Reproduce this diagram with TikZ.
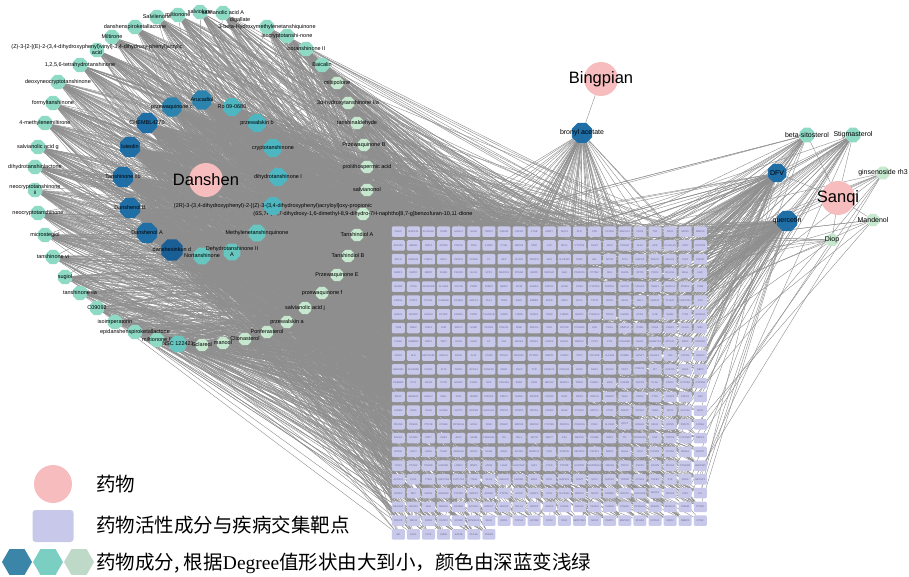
\documentclass[tikz,border=0pt]{standalone}
\usepackage{fontspec}
\setmainfont{Liberation Sans}
\newfontfamily\cjkfont{Noto Sans CJK SC}
\newfontfamily\latinserif{Liberation Serif}
\usetikzlibrary{shapes.geometric,backgrounds}

\definecolor{HerbPink}{HTML}{F7BDBE}
\definecolor{TargetLilac}{HTML}{C8C8EA}
\definecolor{GeneInk}{HTML}{6A6A9A}
\definecolor{LinkGray}{HTML}{8E8E8E}
\definecolor{DeepestFill}{HTML}{1A5E96}
\definecolor{DeepFill}{HTML}{1F6EA6}
\definecolor{MidFill}{HTML}{2B83AE}
\definecolor{TealFill}{HTML}{4DB6C1}
\definecolor{AquaFill}{HTML}{67C6C0}
\definecolor{MintFill}{HTML}{8FDAC4}
\definecolor{PaleFill}{HTML}{C6E8CF}
\definecolor{KeyDeep}{HTML}{3B86A8}
\definecolor{KeyMid}{HTML}{7BCFC2}
\definecolor{KeyPale}{HTML}{BFD9C9}

\tikzstyle{Herb} = [circle, fill=HerbPink, minimum size=34pt, inner sep=0pt]
\tikzstyle{HerbName} = [font=\fontsize{16.5}{17}\selectfont, inner sep=0pt]
\tikzstyle{Compound} = [regular polygon, regular polygon sides=8, inner sep=0pt]
\tikzstyle{Deepest} = [Compound, fill=DeepestFill, minimum size=23pt]
\tikzstyle{Deep} = [Compound, fill=DeepFill, minimum size=22pt]
\tikzstyle{Mid} = [Compound, fill=MidFill, minimum size=21pt]
\tikzstyle{Teal} = [Compound, fill=TealFill, minimum size=19pt]
\tikzstyle{Aqua} = [Compound, fill=AquaFill, minimum size=18pt]
\tikzstyle{Mint} = [Compound, fill=MintFill, minimum size=15.5pt]
\tikzstyle{Pale} = [Compound, fill=PaleFill, minimum size=13.5pt]
\tikzstyle{Tag} = [font=\fontsize{5.5}{6}\selectfont, inner sep=0pt, align=center]
\tikzstyle{TagBig} = [font=\fontsize{7}{8}\selectfont, inner sep=0pt]
\tikzstyle{Target} = [rectangle, rounded corners=1.2pt, fill=TargetLilac, minimum width=13pt, minimum height=10.5pt, inner sep=0pt]
\tikzstyle{Gene} = [font=\fontsize{2.5}{3}\selectfont, text=GeneInk, inner sep=0pt]
\tikzstyle{Link} = [draw=LinkGray, line width=0.4pt]
\tikzstyle{Key} = [font=\cjkfont\fontsize{19.5}{20}\selectfont, inner sep=0pt, anchor=west]
\tikzstyle{KeyBox} = [rectangle, rounded corners=3pt, fill=TargetLilac, minimum width=41pt, minimum height=32pt]
\tikzstyle{KeyHex} = [regular polygon, regular polygon sides=6, minimum size=30pt, inner sep=0pt]

\begin{document}
\begin{tikzpicture}[x=1pt, y=-1pt]
    \useasboundingbox (0,0) rectangle (909,577);

    \foreach \g [count=\n] in {
      PGH1, MAPK10, PLA2G2A, THRB, HDAC4, EZH2, TNNT2, GSK3B, CSF1R, CTSB, MMP7, NQO1, ATIC, CFD, CCND1, MAPK14, CDK6, TNF, CDK1, MMP9, MMP13,
      AKR1B1, ABCB1, DRD3, GPR35, PRKCA, PIM1, S1PR3, CTSS, MAPK3, PIM2, LCK, MCL1, CYP2C9, GART, JAK2, PDGFB, KLK3, SPR, PLA2G4A, HTR7, HCRTR2,
      MYLK, ADRA1B, FABP4, PAK4, PRKCH, VCAM1, F3, APP, ALOX5, PRKCD, JAK1, SLC22A6, PREP, AXL, MTOR, ST14, MAPK8, PDE7A, HDAC6, PLAT, PDE4D,
      NR3C1, GMPR, MMP2, ICAM1, PIK3CD, GLO1, UPP1, MAP2K3, PPARA, MMP8, IMPDH2, AHR, PDGFRA, PTPN2, SIK1, RHOA, OPTN, PROC, BCL2L1, MGLL, HGF,
      HCAR2, CTSA, ADORA2B, SLC6A3, GLP1R, PDPR, FABP5, MDM2, CD38, AURKA, DAPK1, LDHB, CDK4, CYP2D6, DHODH, GSTM1, HDAC8, TNNC1, MAPK11, PPARG, PIM3,
      PDE5A, STAT3, PTGS1, CAMK2B, KCNQ4, ABCC1, PLK1, TNKS, ESR1, ERBB2, EGFR, CDK2, BCL2, TSPO, NOS1, HRH1, ABL1, HMOX1, PLAUR, HSD17B1, CA9,
      HDAC1, IGFBP3, HDAC2, HTR2C, KDM1A, FNTB, PLA2G1B, SORD, LTB4R, DUSP1, TGM2, CHRM1, MAPK1, POLR1A, TACR1, GSK3A, CCR1, IL1B, SHBG, TYK2, ADRA2A,
      TLR9, HRH2, KNG1, ATM, MALT1, HUNK, OPRD1, PRKCE, MME, PRKCG, KDR, NPY5R, PTGER3, JUN, CES1, MMP14, ITGB1, CDK5, CASP1, CHKA, MET,
      LTA4H, GABRB3, BRD3, TERT, HCN1, CHAT, F2, CA1, BACE2, NTRK1, CASP6, IGHG1, MMP12, CTSV, FYN, PDGFRB, EGR1, ADAMTS4, ATP2A1, DRD2, CDC25C,
      GRIK2, ALK, HSP90AB1, NR1H3, BCHE, ALPL, STK38, PRSS1, ADRA2C, PTPN11, DNMT1, CASP3, TOP1, CDC25B, SLC6A4, PSMB5, CASP7, ELAVL1, VIM, CXCR4, HDAC3,
      HSD11B1, PLA2G2E, FFAR4, FLT3, TRAP1, EPHX1, CSNK1D, CMA1, GSK3, TYR, CAMK2A, PDE10A, PAOX, NOX1, ADH1C, CDC7, PRKCQ, KIT, ALOX15, LDLR, RBP3,
      CREBBP, FLT1, IGF1R, CFTR, EPHX2, F13A1, GCK, CDC25A, ESR2, PIM3, ABCG2, MAPK3, TRPA1, CHEK1, IARS, CHRM5, FGFR3, PLAU, F2RL1, CYP2A6, CYP3A4,
      BRAF, ADORA3, HDAC7, SAE1, PGR, HMMR, PIK3CA, PRKCI, MAOA, PIK3CB, CXCR2, IL6ST, NOS3, NR1H4, ANPEP, SELP, PADI4, PTK2, CASP8, PDPK1, CA2,
      CCNB2, PAX8, ITGA4, SCN5A, GFPT1, OPRM1, ALDH1A1, TRPV4, PPARD, PRKD1, CCND3, NOS2, PTGDS, ADCY1, CTSK, PARP2, OPRK1, THRA, SOX2, SLC2A1, ACP1,
      PDLIM1, PDE4A, PTK2B, CCNE1, RPS6KA1, HIF1A, INSR, PDE6C, MAPK6, MAPK9, CYP1B1, PIK3CG, PDGFRA, PDK1, SLC6A2, QPCT, HMGA1, NEU3, GRM5, PRMT1, CCNE2,
      BACE1, CCNA2, USP7, CDK8, AKT1, SDHB, CSNK2A1, ITK, SELL, ARTN, MAPT, CA4, MERTK, CCNB1, RBP1, TTL, ADORA2A, PGF, TRPC6, CYP19A1, SRPK1,
      EP300, ACP2, GRK6, TSHR, ADRA1A, NOX4, ACHE, ARG1, AGTR1, MAPK13, PGR, PORCN, METAP2, PIK3R1, MMP3, NAAA, CA12, PIK3R2, CXCR1, NR4A1, GSTP1,
      COX2, PTGS2, PPARD, HSD3B1, LRRK2, MMP1, HRH3, LDHA, ALOX5AP, IGF1, CTSD, PTPRB, HCRTR1, HSP90AA1, SMAD3, TRPV1, FGFR1, CASP9, EPHA2, PTGER2, HSD11B2,
      ALOX12, CUL1, TYMS, HSD17B2, CYP17A1, TSHB, GLO1, HMGCR, HMGB1, MSK1, MPO, MAP2K1, COMT, STK3, MAPK8, TRPM8, CCNA1, TGFB1, SYK, CDK9, METAP1,
      ANPEP, RET, GRIN1, ADAM10, CYP2E1, MAPK2, ADRB2, PTPN1, HPGD, HDAC2, CTSL, SLC29A1, MMP16, NR1I2, EDNRA, ROCK1, ALOX12B, NUAK1, PRSS2, CSF1, IL2,
      EIF2AK3, NCOA2, DHH, NMUR1, EDNRB, ACVRL1, MAPK7, HDAC9, POLA1, NR3C2, HDAC5, COX5A, EPHA3, VEGFA, CHRM2, PDE3A, RPS6KA3, PDE2A, MAPK12, PDE3B, PTPRC,
      PRKCB, NR1I3, RXRB, DUSP3, SCN3A, RPS6KA5, SELE, DRD1, TOP2A, GSTM2, CCR2, IDH1, SERPINE1, NR1I2, PARP1, MAP2K2, EPHB4, NCOA1, NQO2, RBBP4, CCNC,
      AR, KLK1, FLT4, LMNA, KAT2B, PLA1A, PSEN1} {
      \pgfmathtruncatemacro\rw{div(\n-1,21)}
      \pgfmathtruncatemacro\cl{mod(\n-1,21)}
      \node[Target, label={[Gene]center:\g}] (t\n) at ({398.3+15.1*\cl},{231.7+13.76*\rw}) {};
    }

    \node[Mint, label={[Tag]center:danshenspiroketallactone}] (spiroketal) at (135,27) {};
    \node[Mint, label={[Tag]center:Salvilenone}] (salvilenone) at (157,17) {};
    \node[Mint, label={[Tag]center:miltionone}] (miltionone) at (178,15) {};
    \node[Mint, label={[Tag]center:salviolone}] (salviolone) at (200,12) {};
    \node[Mint, label={[Tag]center:salvianolic acid A}, label={[Tag, xshift=17pt, yshift=-7pt]center:digallate}] (salacidA) at (223,13) {};
    \node[Mint, label={[Tag]center:3-beta-Hydroxymethylenetanshiquinone}] (hydroxymethylene) at (267,27) {};
    \node[Mint, label={[Tag]center:Miltirone}] (miltirone) at (112,37) {};
    \node[Mint, label={[Tag]center:isocryptotanshi-none}] (isocrypto) at (287,36) {};
    \node[Mint, label={[Tag]center:{(Z)-3-[2-[(E)-2-(3,4-dihydroxyphenyl)vinyl]-3,4-dihydroxy-phenyl]acrylic\\acid}}] (acrylic) at (97,50) {};
    \node[Mint, label={[Tag]center:isotanshinone II}] (isotanshinone) at (306,49) {};
    \node[Mint, label={[Tag]center:{1,2,5,6-tetrahydrotanshinone}}] (tetrahydro) at (80,65) {};
    \node[Mint, label={[Tag]center:Baicalin}] (baicalin) at (322,65) {};
    \node[Mint, label={[Tag]center:deoxyneocryptotanshinone}] (deoxyneo) at (58,82) {};
    \node[Mint, label={[Tag]center:formyltanshinone}] (formyl) at (53,103) {};
    \node[Mint, label={[Tag]center:4-methylenemiltirone}] (methylenemiltirone) at (45,123) {};
    \node[Mint, label={[Tag]center:salvianolic acid g}] (salacidG) at (38,147) {};
    \node[Mint, label={[Tag]center:dihydrotanshinlactone}] (dihydrolactone) at (35,167) {};
    \node[Mint, label={[Tag]center:{neocryptotanshinone\\ii}}] (neocryptoII) at (35,190) {};
    \node[Mint, label={[Tag]center:neocryptotanshinone}] (neocrypto) at (38,213) {};
    \node[Mint, label={[Tag]center:microstegiol}] (microstegiol) at (45,235) {};
    \node[Mint, label={[Tag]center:tanshinone vi}] (tanshinoneVI) at (53,257) {};
    \node[Mint, label={[Tag]center:sugiol}] (sugiol) at (65,277) {};
    \node[Mint, label={[Tag]center:tanshinone iia}] (tanshinoneIIA) at (80,293) {};
    \node[Mint, label={[Tag]center:C09092}] (cnine) at (97,308) {};
    \node[Mint, label={[Tag]center:isoimperatorin}] (isoimperatorin) at (115,322) {};
    \node[Mint, label={[Tag]center:epidanshenspiroketallactone}] (epispiro) at (135,332) {};
    \node[Mint, label={[Tag]center:miltionone II}] (miltiononeII) at (157,340) {};
    \node[Aqua, label={[Tag]center:NSC 122421}] (nsc) at (178,344) {};

    \node[Pale, label={[Tag]center:Sclareol}] (sclareol) at (202,345) {};
    \node[Pale, label={[Tag]center:manool}] (manool) at (223,343) {};
    \node[Pale, label={[Tag]center:Clionasterol}] (clionasterol) at (245,339) {};
    \node[Pale, label={[Tag]center:Poriferasterol}] (poriferasterol) at (267,332) {};
    \node[Pale, label={[Tag]center:przewalskin a}] (przewalskinA) at (287,322) {};
    \node[Pale, label={[Tag]center:salvianolic acid j}] (salacidJ) at (305,308) {};
    \node[Pale, label={[Tag]center:przewaquinone f}] (przewaquinoneF) at (322,293) {};
    \node[Pale, label={[Tag]center:Przewaquinone E}] (przewaquinoneE) at (337,275) {};
    \node[Pale, label={[Tag]center:Tanshindiol B}] (tanshindiolB) at (348,256) {};
    \node[Pale, label={[Tag]center:Tanshindiol A}] (tanshindiolA) at (357,235) {};
    \node[Pale, label={[Tag]center:{(6S,7R)-6,7-dihydroxy-1,6-dimethyl-8,9-dihydro-7H-naphtho[8,7-g]benzofuran-10,11-dione}}] (dione) at (363,214) {};
    \node[Pale, label={[Tag]center:salvianonol}] (salvianonol) at (367,190) {};
    \node[Pale, label={[Tag]center:prolithospermic acid}] (prolithospermic) at (367,167) {};
    \node[Pale, label={[Tag]center:Przewaquinone B}] (przewaquinoneB) at (364,145) {};
    \node[Pale, label={[Tag]center:tanshinaldehyde}] (tanshinaldehyde) at (357,123) {};
    \node[Pale, label={[Tag]center:3α-hydroxytanshinone IIa}] (hydroxytanshinone) at (348,103) {};
    \node[Pale, label={[Tag]center:miltipolone}] (miltipolone) at (337,83) {};

    \node[Mid, label={[Tag]center:przewaquinone c}] (przewaquinoneC) at (172,107) {};
    \node[Mid, label={[Tag]center:Arucadiol}] (arucadiol) at (202,100) {};
    \node[Teal, label={[Tag]center:Ro 09-0680}] (ro) at (232,107) {};
    \node[Deep, label={[Tag]center:CHEMBL4270}] (chembl) at (147,123) {};
    \node[Teal, label={[Tag]center:przewalskin b}] (przewalskinB) at (257,123) {};
    \node[Deep, label={[Tag]center:luteolin}] (luteolin) at (130,147) {};
    \node[Teal, label={[Tag]center:cryptotanshinone}] (cryptotanshinone) at (273,148) {};
    \node[Deep, label={[Tag]center:Tanshinone iib}] (tanshinoneIIB) at (123,177) {};
    \node[Teal, label={[Tag]center:dihydrotanshinone I}] (dihydrotanshinone) at (278,177) {};
    \node[Deep, label={[Tag]center:Danshenol B}] (danshenolB) at (130,208) {};
    \node[Teal, label={[Tag]center:{(2R)-3-(3,4-dihydroxyphenyl)-2-[(Z)-3-(3,4-dihydroxyphenyl)acryloyl]oxy-propionic}}] (propionic) at (273,206) {};
    \node[Deep, label={[Tag]center:Danshenol A}] (danshenolA) at (147,233) {};
    \node[Aqua, label={[Tag]center:Methylenetanshinquinone}] (methylenequinone) at (257,233) {};
    \node[Deepest, label={[Tag]center:danshexinkun d}] (danshexinkun) at (172,250) {};
    \node[Aqua, label={[Tag]center:Nortanshinone}] (nortanshinone) at (202,256) {};
    \node[Aqua, label={[Tag]center:{Dehydrotanshinone II\\A}}] (dehydrotanshinone) at (232,252) {};

    \node[Deep, label={[TagBig]center:bronyl acetate}] (bornyl) at (582,133) {};
    \node[Mint, minimum size=16pt, label={[TagBig]center:beta-sitosterol}] (sitosterol) at (807,135) {};
    \node[Mint, minimum size=16pt, label={[TagBig]center:Stigmasterol}] (stigmasterol) at (853,135) {};
    \node[Deep, minimum size=20pt, label={[TagBig]center:DFV}] (dfv) at (777,173) {};
    \node[Deep, label={[TagBig]center:quercetin}] (quercetin) at (787,221) {};
    \node[Pale, minimum size=14pt, label={[TagBig]center:ginsenoside rh3}] (ginsenoside) at (883,173) {};
    \node[Pale, label={[TagBig]center:Mandenol}] (mandenol) at (873,220) {};
    \node[Pale, label={[TagBig]center:Diop}] (diop) at (832,240) {};

    \node[Herb, label={[HerbName]center:Danshen}] (danshen) at (206,180) {};
    \node[Herb, label={[HerbName]center:Bingpian}] (bingpian) at (601,79) {};
    \node[Herb, label={[HerbName]center:Sanqi}] (sanqi) at (838,198) {};

    \begin{scope}[on background layer]
      \foreach \cmp in {spiroketal, salvilenone, miltionone, salviolone, salacidA, hydroxymethylene, miltirone, isocrypto, acrylic,
          isotanshinone, tetrahydro, baicalin, deoxyneo, formyl, methylenemiltirone, salacidG, dihydrolactone, neocryptoII, neocrypto,
          microstegiol, tanshinoneVI, sugiol, tanshinoneIIA, cnine, isoimperatorin, epispiro, miltiononeII, nsc, sclareol, manool,
          clionasterol, poriferasterol, przewalskinA, salacidJ, przewaquinoneF, przewaquinoneE, tanshindiolB, tanshindiolA, dione,
          salvianonol, prolithospermic, przewaquinoneB, tanshinaldehyde, hydroxytanshinone, miltipolone, przewaquinoneC, arucadiol,
          ro, chembl, przewalskinB, luteolin, cryptotanshinone, tanshinoneIIB, dihydrotanshinone, danshenolB, propionic, danshenolA,
          methylenequinone, danshexinkun, nortanshinone, dehydrotanshinone}
        \draw[Link] (danshen) -- (\cmp);
      \draw[Link] (bingpian) -- (bornyl);
      \foreach \cmp in {sitosterol, stigmasterol, dfv, quercetin, ginsenoside, mandenol, diop}
        \draw[Link] (sanqi) -- (\cmp);

      \pgfmathsetseed{17}
      \foreach \cmp/\k in {chembl/150, luteolin/160, tanshinoneIIB/150, danshenolB/150, danshenolA/160, danshexinkun/180,
          przewaquinoneC/130, arucadiol/130, ro/90, przewalskinB/90, cryptotanshinone/95, dihydrotanshinone/90, propionic/80,
          methylenequinone/80, nortanshinone/80, dehydrotanshinone/80, nsc/75,
          spiroketal/40, salvilenone/38, miltionone/38, salviolone/36, salacidA/36, hydroxymethylene/40, miltirone/42,
          isocrypto/40, acrylic/42, isotanshinone/40, tetrahydro/42, baicalin/38, deoxyneo/42, formyl/42, methylenemiltirone/42,
          salacidG/42, dihydrolactone/42, neocryptoII/42, neocrypto/42, microstegiol/42, tanshinoneVI/42, sugiol/42,
          tanshinoneIIA/40, cnine/40, isoimperatorin/40, epispiro/40, miltiononeII/40,
          sclareol/24, manool/24, clionasterol/24, poriferasterol/24, przewalskinA/24, salacidJ/24, przewaquinoneF/24,
          przewaquinoneE/24, tanshindiolB/24, tanshindiolA/24, dione/24, salvianonol/24, prolithospermic/24,
          przewaquinoneB/24, tanshinaldehyde/24, hydroxytanshinone/24, miltipolone/24,
          bornyl/70, dfv/80, quercetin/130, sitosterol/26, stigmasterol/26, ginsenoside/8, mandenol/6, diop/8} {
        \foreach \e in {1,...,\k} {
          \pgfmathrandominteger{\tgt}{1}{469}
          \draw[Link] (\cmp) -- (t\tgt);
        }
      }
    \end{scope}

    \node[Herb, minimum size=38pt] (keyherb) at (53,484) {};
    \node[Key] (keyherbtext) at (96,484) {药物};
    \node[KeyBox] (keytarget) at (53,526) {};
    \node[Key] (keytargettext) at (96,525) {药物活性成分与疾病交集靶点};
    \node[KeyHex, fill=KeyDeep] (keydeep) at (17,562) {};
    \node[KeyHex, fill=KeyMid] (keymid) at (48,562) {};
    \node[KeyHex, fill=KeyPale] (keypale) at (79,562) {};
    \node[Key] (keyhextext) at (96,563) {药物成分, 根据{\latinserif Degree}值形状由大到小，颜色由深蓝变浅绿};
\end{tikzpicture}
\end{document}
